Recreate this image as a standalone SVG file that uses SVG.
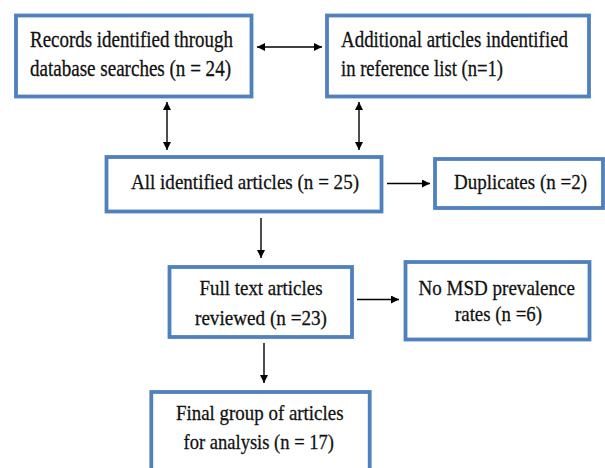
<svg xmlns="http://www.w3.org/2000/svg" width="605" height="468" viewBox="0 0 605 468">
<style>
.box{fill:#ffffff;stroke:#4F81BD;stroke-width:3.8}
.t{font-family:'Liberation Serif','Times New Roman',Times,serif;font-size:22px;fill:#111111;stroke:#111111;stroke-width:0.3}
.tl{font-size:23px}
.c{stroke:#000000;stroke-width:1.4;fill:none}
</style>
<defs>
<marker id="ah" viewBox="0 0 10 10" refX="10" refY="5" markerWidth="9" markerHeight="8" markerUnits="userSpaceOnUse" orient="auto-start-reverse">
<path d="M0,0 L10,5 L0,10 Z" fill="#000000"/>
</marker>
</defs>
<rect width="605" height="468" fill="#ffffff"/>
<g id="connectors">
<line class="c" x1="257" y1="47" x2="322" y2="47" marker-start="url(#ah)" marker-end="url(#ah)"/>
<line class="c" x1="167" y1="102" x2="167" y2="150" marker-start="url(#ah)" marker-end="url(#ah)"/>
<line class="c" x1="359" y1="102" x2="359" y2="150" marker-start="url(#ah)" marker-end="url(#ah)"/>
<line class="c" x1="387" y1="183.5" x2="430" y2="183.5" marker-end="url(#ah)"/>
<line class="c" x1="261" y1="218" x2="261" y2="258" marker-end="url(#ah)"/>
<line class="c" x1="357" y1="299.5" x2="399" y2="299.5" marker-end="url(#ah)"/>
<line class="c" x1="264" y1="343" x2="264" y2="383" marker-end="url(#ah)"/>
</g>
<g id="records">
<rect class="box" x="16" y="15.5" width="235.5" height="81"/>
<text class="t tl" x="30" y="47" textLength="203" lengthAdjust="spacingAndGlyphs">Records identified through</text>
<text class="t tl" x="30" y="76" textLength="201" lengthAdjust="spacingAndGlyphs">database searches (n = 24)</text>
</g>
<g id="additional">
<rect class="box" x="327" y="15.5" width="262" height="81"/>
<text class="t tl" x="341" y="47" textLength="227" lengthAdjust="spacingAndGlyphs">Additional articles indentified</text>
<text class="t tl" x="341" y="76" textLength="162" lengthAdjust="spacingAndGlyphs">in reference list (n=1)</text>
</g>
<g id="all">
<rect class="box" x="106.5" y="157" width="275" height="54.5"/>
<text class="t" x="131" y="189" textLength="228" lengthAdjust="spacingAndGlyphs">All identified articles (n = 25)</text>
</g>
<g id="duplicates">
<rect class="box" x="435" y="159" width="168" height="49"/>
<text class="t" x="454" y="189" textLength="133" lengthAdjust="spacingAndGlyphs">Duplicates (n =2)</text>
</g>
<g id="fulltext">
<rect class="box" x="169.5" y="267" width="182.5" height="70"/>
<text class="t" x="199.5" y="295" textLength="123" lengthAdjust="spacingAndGlyphs">Full text articles</text>
<text class="t" x="195" y="325" textLength="132" lengthAdjust="spacingAndGlyphs">reviewed (n =23)</text>
</g>
<g id="nomsd">
<rect class="box" x="405.5" y="262" width="184" height="77.5"/>
<text class="t" x="418.5" y="295" textLength="156.5" lengthAdjust="spacingAndGlyphs">No MSD prevalence</text>
<text class="t" x="455" y="321" textLength="87" lengthAdjust="spacingAndGlyphs">rates (n =6)</text>
</g>
<g id="final">
<rect class="box" x="151.3" y="392" width="218.4" height="100"/>
<text class="t" x="176" y="419.5" textLength="167.5" lengthAdjust="spacingAndGlyphs">Final group of articles</text>
<text class="t" x="183.5" y="448.5" textLength="150.5" lengthAdjust="spacingAndGlyphs">for analysis (n = 17)</text>
</g>
</svg>
